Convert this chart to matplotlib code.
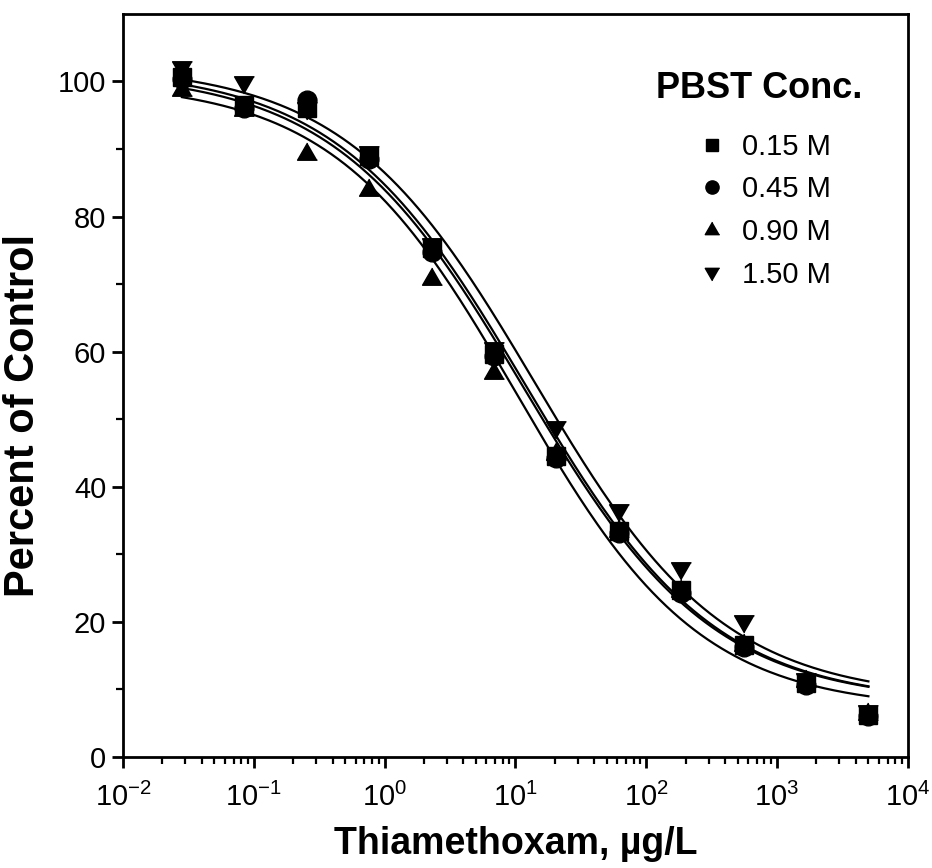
import numpy as np
import matplotlib
matplotlib.use("Agg")
import matplotlib.pyplot as plt
from matplotlib.lines import Line2D

plt.rcParams['font.family'] = ['Liberation Sans', 'DejaVu Sans']
plt.rcParams['mathtext.fontset'] = 'custom'
plt.rcParams['mathtext.rm'] = 'Liberation Sans'
plt.rcParams['mathtext.it'] = 'Liberation Sans'
plt.rcParams['mathtext.bf'] = 'Liberation Sans:bold'

# Thiamethoxam concentration (ug/L)
conc = [0.0282, 0.0847, 0.254, 0.762, 2.29, 6.86, 20.6, 61.7, 185, 556, 1667, 5000]

series_labels = ["0.15 M", "0.45 M", "0.90 M", "1.50 M"]
pct_015 = [100.7, 96.5, 96.0, 88.9, 75.3, 59.7, 44.6, 33.5, 24.7, 16.6, 11.0, 6.2]
pct_045 = [100.3, 96.0, 97.2, 88.5, 74.8, 59.3, 44.3, 33.2, 24.3, 16.2, 10.7, 6.0]
pct_090 = [98.8, 95.8, 89.3, 84.0, 70.7, 56.9, 44.8, 33.5, 24.5, 16.5, 11.2, 6.3]
pct_150 = [102.2, 99.9, 96.0, 89.5, 76.0, 60.5, 48.9, 36.6, 27.9, 20.1, 11.5, 6.8]

# Four-parameter logistic fit parameters (top, bottom, IC50, slope)
fit_top = [102.0, 101.5, 100.0, 102.5]
fit_bottom = [8.0, 8.0, 7.0, 8.5]
fit_ic50 = [12.0, 11.5, 10.4, 14.0]
fit_slope = [0.60, 0.60, 0.62, 0.60]

x_ticks = [1e-2, 1e-1, 1e0, 1e1, 1e2, 1e3, 1e4]
x_ticklabels = [r"$10^{-2}$", r"$10^{-1}$", r"$10^{0}$", r"$10^{1}$", r"$10^{2}$", r"$10^{3}$", r"$10^{4}$"]
y_ticks = [0, 20, 40, 60, 80, 100]
legend_title = "PBST Conc."

tri_up = [(0, 1), (-0.866, -0.5), (0.866, -0.5)]
tri_dn = [(0, -1), (-0.866, 0.5), (0.866, 0.5)]
markers = ['s', 'o', tri_up, tri_dn]
msizes = [13.5, 13.5, 16.5, 16.5]
leg_ms = [9, 9.5, 12, 12]
all_y = [pct_015, pct_045, pct_090, pct_150]

fig = plt.figure(figsize=(9.32, 8.68), dpi=100)
ax = fig.add_axes([0.132, 0.128, 0.842, 0.856])

xs = np.logspace(np.log10(conc[0]), np.log10(conc[-1]), 300)
for i in range(4):
    yfit = fit_bottom[i] + (fit_top[i] - fit_bottom[i]) / (1 + (xs / fit_ic50[i]) ** fit_slope[i])
    ax.plot(xs, yfit, color='black', lw=1.6, zorder=2)
for i in range(4):
    ax.plot(conc, all_y[i], linestyle='none', marker=markers[i], ms=msizes[i],
            color='black', mec='black', zorder=3)

ax.set_xscale('log')
ax.set_xlim(1e-2, 1e4)
ax.set_ylim(0, 110)
ax.set_xticks(x_ticks)
ax.set_xticklabels(x_ticklabels)
ax.set_yticks(y_ticks)
ax.set_yticks([10, 30, 50, 70, 90], minor=True)
ax.xaxis.set_minor_locator(matplotlib.ticker.LogLocator(base=10, subs=np.arange(2, 10)))
ax.xaxis.set_minor_formatter(matplotlib.ticker.NullFormatter())
ax.tick_params(axis='both', which='major', direction='out', length=8, width=2, labelsize=21, pad=4)
ax.tick_params(axis='x', which='major', pad=11)
ax.tick_params(axis='both', which='minor', direction='out', length=5, width=1.6)
ax.tick_params(top=False, right=False, which='both')
for s in ax.spines.values():
    s.set_linewidth(2)

ax.set_xlabel("Thiamethoxam, µg/L", fontsize=27, fontweight='bold', labelpad=10)
ax.set_ylabel("Percent of Control", fontsize=30, fontweight='bold')
ax.yaxis.set_label_coords(-0.102, 0.459)

handles = [Line2D([], [], linestyle='none', marker=markers[i], ms=leg_ms[i], color='black')
           for i in range(4)]
leg = ax.legend(handles, series_labels, loc='upper left',
                bbox_to_anchor=(0.728, 0.840), borderaxespad=0, borderpad=0,
                frameon=False, fontsize=21,
                handletextpad=0.45, labelspacing=0.5, handlelength=1.2)
ax.text(0.811, 0.900, legend_title, transform=ax.transAxes, ha='center', va='center',
        fontsize=26, fontweight='bold')

fig.savefig("out.png", dpi=100)
